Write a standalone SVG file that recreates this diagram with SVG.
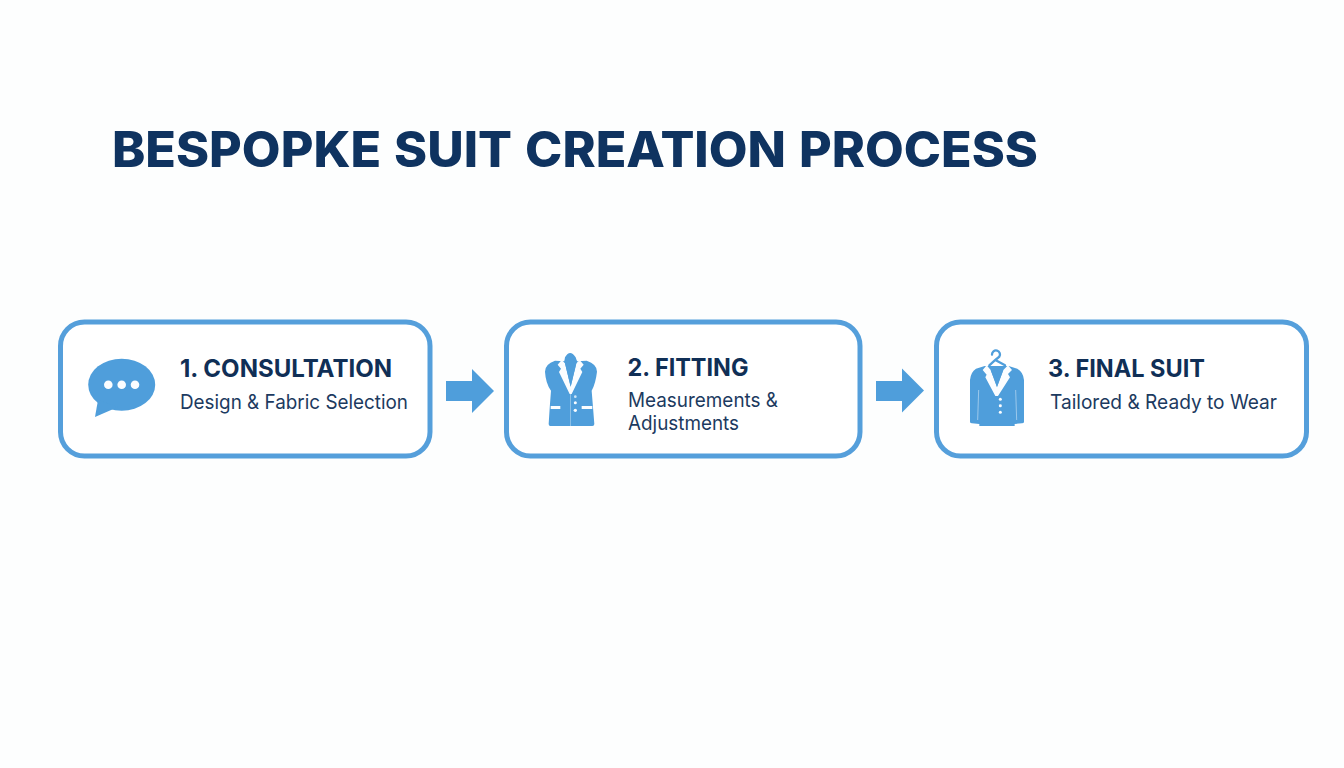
<svg xmlns="http://www.w3.org/2000/svg" width="1344" height="768" viewBox="0 0 1344 768">
<style>
.box{fill:#ffffff;stroke:#559fdb;stroke-width:5}
.ic{fill:#4f9edb}
.w{fill:#fbfdff}
.h{font-family:Inter,"Liberation Sans",sans-serif;font-weight:700;fill:#102f56;font-size:24px}
.s{font-family:Inter,"Liberation Sans",sans-serif;font-weight:400;fill:#1c3a60;font-size:20px}
.t{font-family:Inter,"Liberation Sans",sans-serif;font-weight:800;fill:#0f3360;font-size:49px;word-spacing:2px}
</style>
<rect width="1344" height="768" fill="#fdfefe"/>
<text id="title" class="t" x="112" y="167" textLength="926" lengthAdjust="spacingAndGlyphs">BESPOPKE SUIT CREATION PROCESS</text>
<g id="connectors">
<path class="ic" d="M446,381H472V369L494,391L472,413V401H446Z"/>
<path class="ic" d="M876,381H902V368.500L924,390.500L902,412.500V401H876Z"/>
</g>
<g id="node1">
<rect class="box" x="60.500" y="322" width="369.500" height="134" rx="24"/>
<g>
<ellipse class="ic" cx="121.700" cy="384.700" rx="33.500" ry="26"/>
<path class="ic" d="M98,400L95,417L118,407Z"/>
<circle class="w" cx="108.300" cy="384.700" r="4.300"/><circle class="w" cx="121.700" cy="384.700" r="4.300"/><circle class="w" cx="135" cy="384.700" r="4.300"/>
</g>
<text class="h" x="180" y="376.500" textLength="212" lengthAdjust="spacingAndGlyphs">1. CONSULTATION</text>
<text class="s" x="180" y="409" textLength="228" lengthAdjust="spacingAndGlyphs">Design &amp; Fabric Selection</text>
</g>
<g id="node2">
<rect class="box" x="506.500" y="322" width="353.500" height="134" rx="24"/>
<g transform="translate(535,340) scale(.3333)">
<path class="ic" d="M90,52Q105,26 122,52L126,64L155,62Q186,72 186,95Q182,130 170,152Q174,200 178,252Q178,258 172,258H46Q41,258 41,252Q44,200 48,152Q32,130 30,95Q30,72 60,62L88,64Z"/>
<path class="w" d="M80,60L68,74L78,86L72,96L104,162H110L142,96L136,86L146,74L134,60L124,70L107,140L90,70Z"/>
<path class="ic" d="M88,62H126L107,140Z"/>
<rect x="106" y="162" width="2" height="96" fill="#a9d0ee"/>
<rect class="w" x="47" y="198" width="29" height="9"/><rect class="w" x="140" y="198" width="32" height="9"/>
<circle fill="#cfe6f8" cx="121" cy="170" r="4"/><circle class="w" cx="121" cy="188" r="4.500"/><circle class="w" cx="121" cy="211" r="5"/>
</g>
<text class="h" x="627.500" y="376" textLength="121" lengthAdjust="spacingAndGlyphs">2. FITTING</text>
<text class="s" x="628" y="406.500" textLength="150" lengthAdjust="spacingAndGlyphs">Measurements &amp;</text>
<text class="s" x="628" y="430" textLength="111" lengthAdjust="spacingAndGlyphs">Adjustments</text>
</g>
<g id="node3">
<rect class="box" x="936.500" y="322" width="370" height="134" rx="24"/>
<g transform="translate(960,340) scale(.3333)">
<path d="M96,44A12,12 0 1 1 118,50L106,60L88,76M106,60L135,76" fill="none" stroke="#4f9edb" stroke-width="7" stroke-linecap="round"/>
<path class="ic" d="M74,78L48,86Q32,96 30,120L30,245Q30,250 36,250L58,252V258H164V252L186,250Q192,250 192,245V120Q190,96 172,86L146,78Z"/>
<path class="w" d="M80,76L68,90L80,104L76,112L106,168H114L150,112L144,102L156,90L144,76L130,90L111,140L92,90Z"/>
<path class="ic" d="M92,90H130L111,142Z"/>
<path d="M56,150L53,240M167,150L170,240" stroke="#a9d0ee" stroke-width="2.500" fill="none"/>
<circle class="w" cx="121" cy="178" r="4.500"/><circle class="w" cx="121" cy="197" r="4.500"/><circle class="w" cx="121" cy="217" r="4.500"/>
</g>
<text class="h" x="1048" y="376.500" textLength="157" lengthAdjust="spacingAndGlyphs">3. FINAL SUIT</text>
<text class="s" x="1050" y="409" textLength="227" lengthAdjust="spacingAndGlyphs">Tailored &amp; Ready to Wear</text>
</g>
</svg>
